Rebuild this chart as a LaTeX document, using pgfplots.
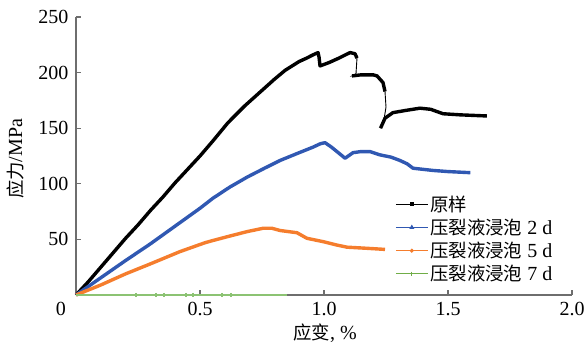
\documentclass[border=0pt]{standalone}
\usepackage{pgfplots}
\pgfplotsset{compat=1.18}
\usepackage{fontspec}
\setmainfont{Liberation Serif}
\newfontfamily\cjk{Noto Sans CJK SC}[Scale=0.92]

\definecolor{axisgray}{RGB}{110,110,110}
\definecolor{cBlue}{RGB}{48,88,178}
\definecolor{cOrange}{RGB}{245,125,45}
\definecolor{cGreen}{RGB}{112,173,71}
\definecolor{cGreenL}{RGB}{140,195,115}

\begin{document}
\begin{tikzpicture}[font=\fontsize{20bp}{24bp}\selectfont]
\useasboundingbox (-76bp,-52bp) rectangle (511bp,295bp);
\begin{axis}[
  at={(0,0)}, anchor=south west,
  scale only axis, width=496bp, height=278bp,
  xmin=0, xmax=2, ymin=0, ymax=250,
  clip=false,
  axis x line*=bottom, axis y line*=left,
  axis line style={axisgray, line width=1.1bp},
  tick style={axisgray, line width=1.1bp},
  tick align=inside, major tick length=5bp,
  xtick={0.5,1,1.5,2}, ytick={50,100,150,200,250},
  /pgf/number format/assume math mode=true,
  xticklabel style={/pgf/number format/.cd, fixed, fixed zerofill, precision=1, /tikz/.cd, yshift=-4bp},
  yticklabel style={xshift=-4bp},
  extra x ticks={0}, extra x tick labels={0},
  extra x tick style={major tick length=0pt, xticklabel style={xshift=-15bp}},
  every axis y label/.style={at={(axis description cs:0,0.49)}, xshift=-61bp, rotate=90, anchor=center},
  every axis x label/.style={at={(axis description cs:0.502,0)}, yshift=-38bp, anchor=center},
  ylabel={{\cjk 应力}/MPa},
  xlabel={{\cjk 应变}, \%},
  unbounded coords=jump,
  legend style={draw=none, fill=none, at={(axis cs:1.275,93)}, anchor=north west,
    row sep=2.2bp, legend cell align=left},
  legend image code/.code={\draw[mark repeat=2,mark phase=2,#1] plot coordinates {(0bp,0bp) (16bp,0bp) (32bp,0bp)};},
]

% 原样: thin trace through the whole record, including the sudden drops
\addplot[black, line width=0.9bp, forget plot] coordinates {
 (0,0) (0.05,12) (0.1,25) (0.15,38) (0.2,51) (0.25,63) (0.3,76) (0.35,88)
 (0.4,101) (0.45,113) (0.5,125) (0.55,138) (0.613,155) (0.68,170) (0.75,184)
 (0.8,194) (0.843,202) (0.9,210) (0.93,213) (0.956,216) (0.976,218) (0.98,214)
 (0.984,206) (1.02,209) (1.06,213) (1.105,218) (1.125,217) (1.133,213)
 (1.129,199) (1.113,197) (1.15,198) (1.198,198) (1.214,197) (1.238,191)
 (1.246,183) (1.25,169) (1.24,155) (1.228,150) (1.24,156) (1.246,159)
 (1.278,164) (1.33,166) (1.387,168) (1.43,167) (1.48,163) (1.55,162) (1.657,161)
};
% 原样: dense sampling where the curve is continuous
\addplot[black, line width=3.4bp, line join=round, forget plot] coordinates {
 (0,0) (0.05,12) (0.1,25) (0.15,38) (0.2,51) (0.25,63) (0.3,76) (0.35,88)
 (0.4,101) (0.45,113) (0.5,125) (0.55,138) (0.613,155) (0.68,170) (0.75,184)
 (0.8,194) (0.843,202) (0.9,210) (0.93,213) (0.956,216) (0.976,218) (0.98,214)
 (0.984,206) (1.02,209) (1.06,213) (1.105,218) (1.125,217) (1.133,213)
 (1.133,nan)
 (1.113,197) (1.15,198) (1.198,198) (1.214,197) (1.238,191) (1.246,183)
 (1.246,nan)
 (1.228,150) (1.24,156) (1.246,159)
 (1.278,164) (1.33,166) (1.387,168) (1.43,167) (1.48,163) (1.55,162) (1.657,161)
};

% 压裂液浸泡 2 d
\addplot[cBlue, line width=3.4bp, line join=round, forget plot] coordinates {
 (0,0) (0.1,15.5) (0.2,31) (0.3,46) (0.4,62) (0.5,78) (0.552,87) (0.62,97)
 (0.69,106) (0.76,114) (0.823,121) (0.9,128) (0.956,133) (0.985,136) (1.004,137)
 (1.03,133) (1.052,129) (1.085,123) (1.117,128) (1.15,129) (1.185,129)
 (1.226,126) (1.27,124) (1.306,121) (1.335,118) (1.359,114) (1.4,113)
 (1.44,112) (1.5,111) (1.59,110)
};

% 压裂液浸泡 5 d
\addplot[cOrange, line width=3.4bp, line join=round, forget plot] coordinates {
 (0,0) (0.1,9) (0.2,19) (0.3,28) (0.419,39) (0.52,47) (0.552,49) (0.62,53)
 (0.69,57) (0.754,60) (0.79,60) (0.823,58) (0.891,56) (0.931,51) (0.996,48)
 (1.05,45) (1.093,43) (1.173,42) (1.246,41)
};

% 压裂液浸泡 7 d
\addplot[cGreenL, line width=1.3bp, mark=+, mark size=2.2bp,
  mark indices={2,3,4,5,6,7,8}, forget plot] coordinates {
 (0,0) (0.242,0) (0.323,0) (0.355,0) (0.444,0) (0.472,0) (0.589,0) (0.625,0) (0.85,0)
};

\addlegendimage{black, line width=0.9bp, mark=square*, mark size=1.6bp}
\addlegendentry{{\cjk 原样}}
\addlegendimage{cBlue, line width=0.9bp, mark=triangle*, mark size=2bp}
\addlegendentry{{\cjk 压裂液浸泡} 2 d}
\addlegendimage{cOrange, line width=0.9bp, mark=*, mark size=1.6bp}
\addlegendentry{{\cjk 压裂液浸泡} 5 d}
\addlegendimage{cGreen, line width=0.9bp, mark=+, mark size=2.2bp}
\addlegendentry{{\cjk 压裂液浸泡} 7 d}
\end{axis}
\end{tikzpicture}
\end{document}
